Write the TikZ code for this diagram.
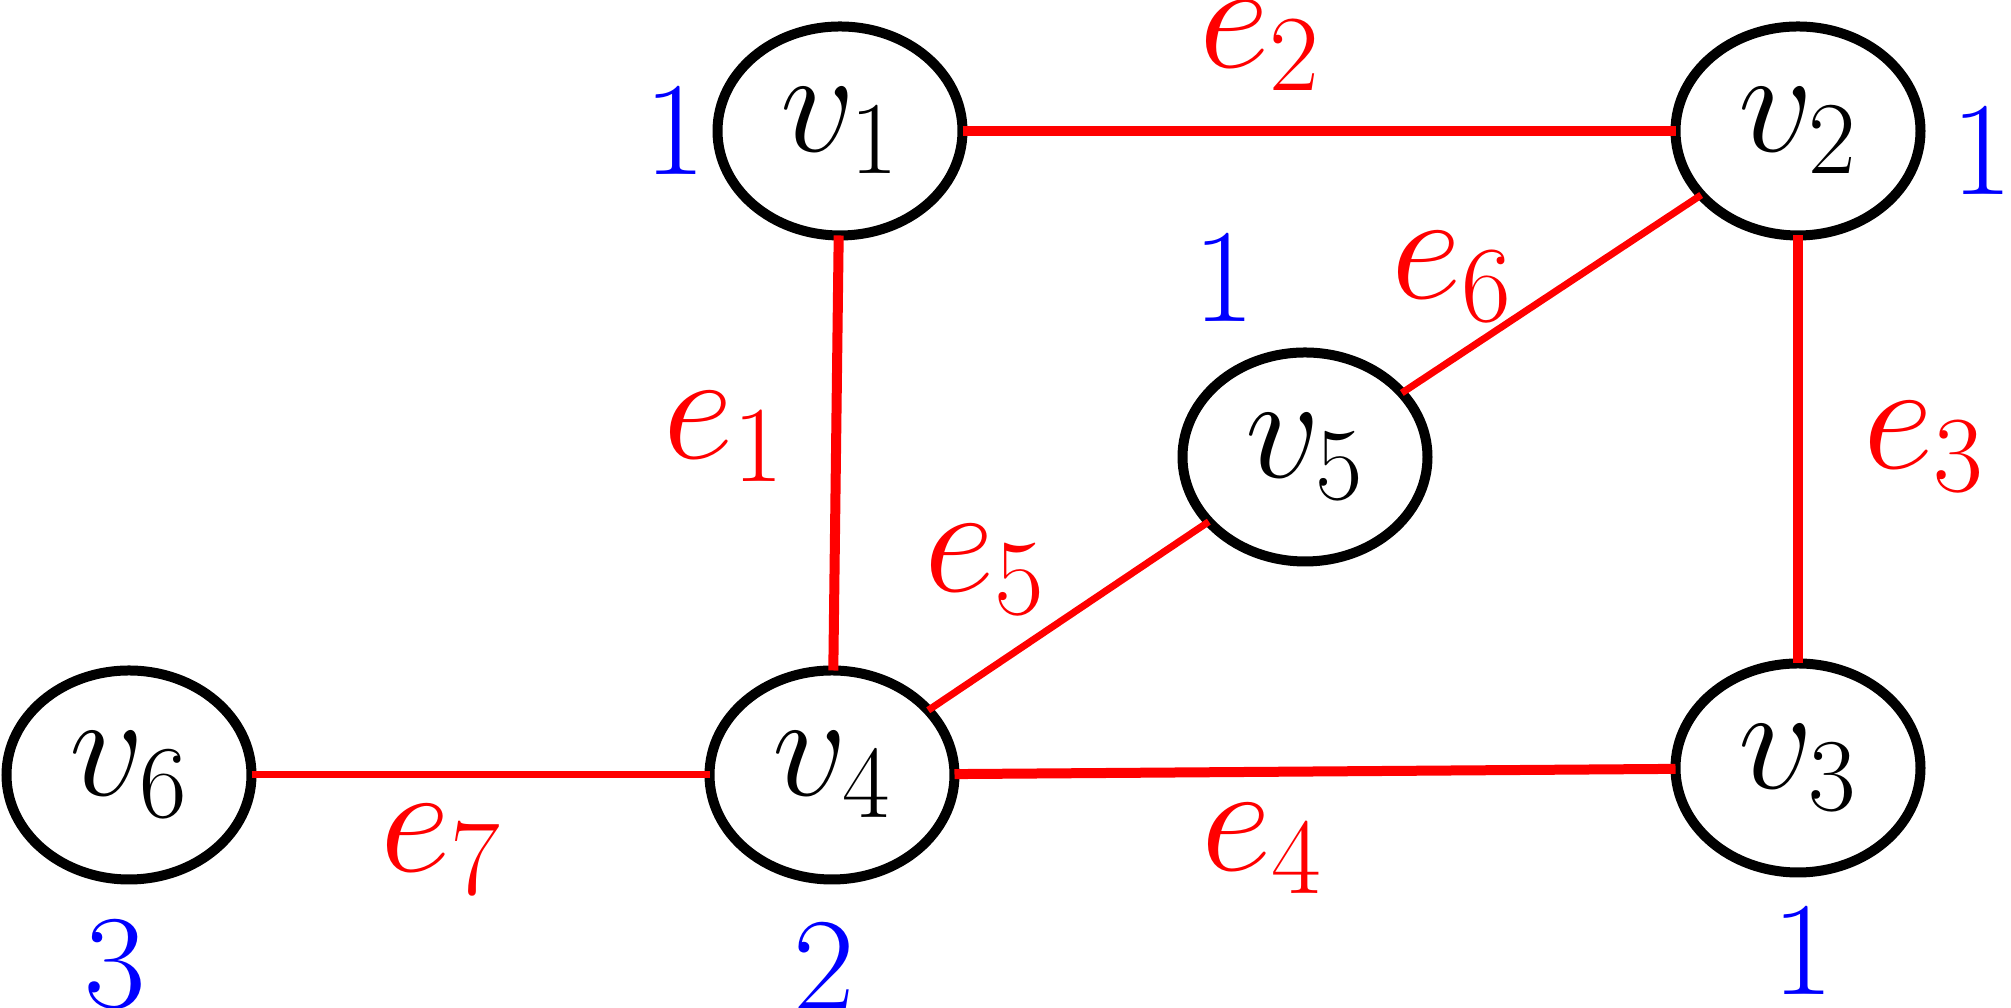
\RequirePackage{fix-cm}
\documentclass[tikz,border=0pt]{standalone}
\usepackage{tikz}
\usetikzlibrary{arrows,fit,shapes.geometric}
\usepackage{tkz-berge}

\tikzset{VertexStyle/.style={draw, shape=ellipse, fill=white, line width=0.1cm,
    minimum width=2.45cm, minimum height=2.09cm, inner sep=0pt,
    font=\fontsize{42}{50}\selectfont}}
\tikzset{EdgeStyle/.style={draw, red, line width=0.1cm}}
\tikzset{EdgeLabel/.style={text=red, inner sep=0pt, font=\fontsize{44}{52}\selectfont}}
\tikzset{DegLabel/.style={text=blue, inner sep=0pt, font=\fontsize{38}{46}\selectfont}}

\begin{document}
\begin{tikzpicture}
          \useasboundingbox (0,0) rectangle (20.11,10.08);
          % vertices
          \Vertex[x=8.40,y=8.77,L=$v_1$]{1}
          \Vertex[x=17.98,y=8.77,L=$v_2$]{2}
          \Vertex[x=17.98,y=2.40,L=$v_3$]{3}
          \Vertex[x=8.32,y=2.33,L=$v_4$]{4}
          \Vertex[x=13.05,y=5.51,L=$v_5$]{5}
          \Vertex[x=1.29,y=2.33,L=$v_6$]{6}
          % edges
          \Edge(1)(4)
          \Edge(1)(2)
          \Edge(2)(3)
          \Edge(4)(3)
          \begin{scope}[EdgeStyle/.append style={line width=0.07cm}]
          \Edge(4)(5)
          \Edge(5)(2)
          \Edge(6)(4)
          \end{scope}
          % edge labels
          \node[EdgeLabel] (e1) at (7.24,5.71) {$e_1$};
          \node[EdgeLabel] (e2) at (12.60,9.62) {$e_2$};
          \node[EdgeLabel] (e3) at (19.24,5.61) {$e_3$};
          \node[EdgeLabel] (e4) at (12.62,1.59) {$e_4$};
          \node[EdgeLabel] (e5) at (9.85,4.38) {$e_5$};
          \node[EdgeLabel] (e6) at (14.52,7.31) {$e_6$};
          \node[EdgeLabel] (e7) at (4.41,1.58) {$e_7$};
          % degrees
          \node[DegLabel] (d1) at (6.75,8.78) {1};
          \node[DegLabel] (d2) at (19.82,8.58) {1};
          \node[DegLabel] (d3) at (18.03,0.58) {1};
          \node[DegLabel] (d4) at (8.24,0.42) {2};
          \node[DegLabel] (d5) at (12.24,7.31) {1};
          \node[DegLabel] (d6) at (1.15,0.44) {3};
        \end{tikzpicture}
\end{document}
